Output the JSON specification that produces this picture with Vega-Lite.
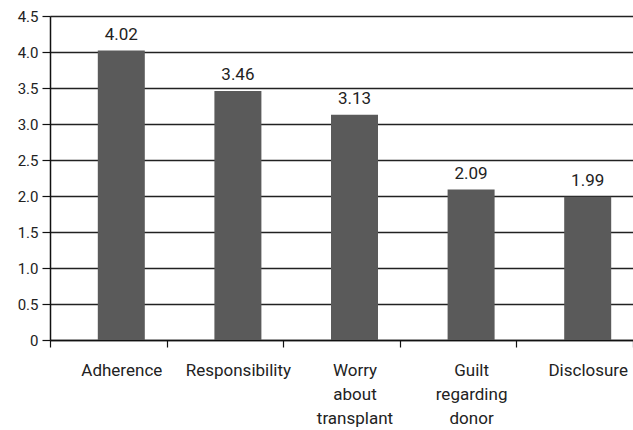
{
  "$schema": "https://vega.github.io/schema/vega-lite/v6.json",
  "autosize": "none",
  "width": 583,
  "height": 324,
  "padding": {"left": 50, "top": 16, "right": 0, "bottom": 90},
  "background": "white",
  "config": {
    "view": {"stroke": null},
    "font": "Roboto"
  },
  "data": {
    "values": [
      {"category": "Adherence", "score": 4.02},
      {"category": "Responsibility", "score": 3.46},
      {"category": "Worry about transplant", "score": 3.13},
      {"category": "Guilt regarding donor", "score": 2.09},
      {"category": "Disclosure", "score": 1.99}
    ]
  },
  "encoding": {
    "x": {
      "field": "category",
      "type": "nominal",
      "sort": null,
      "scale": {"paddingInner": 0, "paddingOuter": 0},
      "axis": {
        "title": null,
        "labelAngle": 0,
        "labelFont": "Roboto",
        "labelFontSize": 17,
        "labelColor": "#222",
        "labelOffset": 13,
        "labelPadding": 15,
        "labelLineHeight": 24,
        "labelBaseline": "top",
        "tickBand": "extent",
        "tickSize": 7,
        "tickColor": "#111",
        "domainColor": "#111",
        "domainWidth": 1.5,
        "tickWidth": 1.2,
        "labelExpr": "datum.label == 'Worry about transplant' ? ['Worry', 'about', 'transplant'] : datum.label == 'Guilt regarding donor' ? ['Guilt', 'regarding', 'donor'] : datum.label"
      }
    },
    "y": {
      "field": "score",
      "type": "quantitative",
      "scale": {"domain": [0, 4.5], "nice": false},
      "axis": {
        "title": null,
        "values": [0, 0.5, 1, 1.5, 2, 2.5, 3, 3.5, 4, 4.5],
        "labelExpr": "datum.value == 0 ? '0' : format(datum.value, '.1f')",
        "labelFont": "Roboto",
        "labelFontSize": 15,
        "labelColor": "#222",
        "labelPadding": 4,
        "tickSize": 8,
        "tickColor": "#111",
        "tickWidth": 1.2,
        "domainColor": "#111",
        "domainWidth": 1.5,
        "grid": true,
        "gridColor": "#222",
        "gridWidth": 1.3
      }
    }
  },
  "layer": [
    {
      "mark": {"type": "bar", "width": 47, "xOffset": 13, "color": "#5a5a5a"}
    },
    {
      "mark": {"type": "text", "xOffset": 13, "dy": -7, "baseline": "bottom", "fontSize": 17, "font": "Roboto", "color": "#222"},
      "encoding": {
        "text": {"field": "score", "type": "quantitative", "format": ".2f"}
      }
    }
  ]
}
